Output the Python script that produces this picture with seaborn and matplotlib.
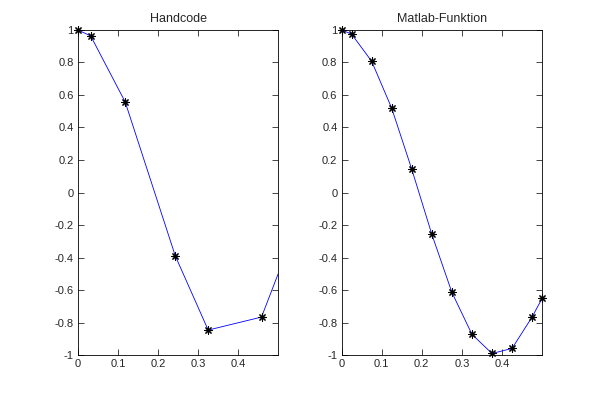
import matplotlib.pyplot as plt
import seaborn as sns
import pandas as pd

# Sample points
hand_x = [0.0, 0.032, 0.118, 0.243, 0.325, 0.458]
hand_y = [1.0, 0.963, 0.557, -0.39, -0.846, -0.766]
# line continues past the last marker to the right edge
hand_line_x = hand_x + [0.5]
hand_line_y = hand_y + [-0.497]

mat_x = [0.0, 0.025, 0.075, 0.125, 0.175, 0.225, 0.275, 0.325, 0.375, 0.425, 0.475, 0.5]
mat_y = [1.0, 0.974, 0.807, 0.518, 0.143, -0.257, -0.614, -0.872, -0.99, -0.959, -0.766, -0.651]

titles = ["Handcode", "Matlab-Funktion"]
x_ticks = [0, 0.1, 0.2, 0.3, 0.4]
x_labels = ["0", "0.1", "0.2", "0.3", "0.4"]
y_ticks = [-1, -0.8, -0.6, -0.4, -0.2, 0, 0.2, 0.4, 0.6, 0.8, 1]
y_labels = ["-1", "-0.8", "-0.6", "-0.4", "-0.2", "0", "0.2", "0.4", "0.6", "0.8", "1"]

sns.set_style("ticks", {"xtick.direction": "in", "ytick.direction": "in"})
plt.rcParams['font.family'] = ['Liberation Sans', 'DejaVu Sans']

fig = plt.figure(figsize=(5.99, 3.99), dpi=100)
ax1 = fig.add_axes([0.13, 0.11, 0.3347, 0.815])
ax2 = fig.add_axes([0.5703, 0.11, 0.3347, 0.815])

panels = [
    (ax1, hand_line_x, hand_line_y, hand_x, hand_y),
    (ax2, mat_x, mat_y, mat_x, mat_y),
]

for i, (ax, lx, ly, mx, my) in enumerate(panels):
    line_df = pd.DataFrame({"x": lx, "y": ly})
    mark_df = pd.DataFrame({"x": mx, "y": my})
    sns.lineplot(data=line_df, x="x", y="y", ax=ax, color="#0000ff",
                 linewidth=0.6, sort=False, estimator=None)
    sns.scatterplot(data=mark_df, x="x", y="y", ax=ax, marker=(8, 2, 0),
                    color="black", edgecolor="black", linewidth=0.8, s=28,
                    zorder=3, clip_on=False)
    ax.set_xlim(0, 0.5)
    ax.set_ylim(-1, 1)
    ax.set_xticks(x_ticks)
    ax.set_xticklabels(x_labels)
    ax.set_yticks(y_ticks)
    ax.set_yticklabels(y_labels)
    ax.tick_params(axis='both', which='major', labelsize=8, length=4, width=0.6,
                   top=True, right=True, direction='in', pad=3)
    for sp in ax.spines.values():
        sp.set_visible(True)
        sp.set_linewidth(0.6)
        sp.set_color("black")
    ax.set_xlabel("")
    ax.set_ylabel("")
    ax.set_title(titles[i], fontsize=9, pad=6)

fig.savefig("out.png", dpi=100)
